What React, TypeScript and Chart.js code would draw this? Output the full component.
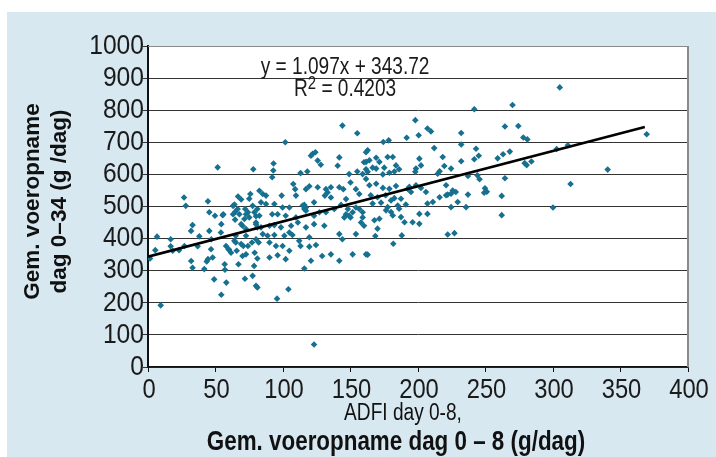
import { useEffect, useRef } from "react";
import { Chart, registerables } from "chart.js";
Chart.register(...registerables);

// ADFI day 0-8 (g/dag)
const adfiDay0to8: number[] = [
  1.5, 5.4, 6.7, 9.4, 16.8, 16.8, 18.3, 23, 26.7, 28, 27, 32, 33, 31.9, 33, 36.8, 38, 44.4, 45.4, 45.4,
  43.5, 44.4, 46.7, 47.9, 46.9, 49.6, 51.6, 41.7, 49, 54.3, 55.3, 55.8, 54.3, 54, 56.8, 57, 58, 57.8, 60, 64,
  64.7, 63, 64.5, 66.7, 65, 65, 67.7, 67, 72, 71.8, 74, 75, 75.8, 70, 72.6, 74, 77.5, 78, 79, 80,
  80, 81, 77.5, 69, 69, 70, 72.6, 78.6, 63, 66.4, 69, 71.4, 72.6, 75, 77, 78.8, 72.6, 80, 64, 65.7,
  70.6, 59.7, 61.5,
  144, 155, 101.7, 122, 124, 120.7, 125.7, 128, 141.7, 140.5, 161.5, 160, 93, 92.8, 92, 113, 118, 149, 155, 159,
  161.5, 82.5, 85, 87.4, 99, 107.6, 109, 109.6, 117, 119.5, 125.7, 131.8, 135.5, 141.7, 144.7, 150, 154, 156.5, 131, 133,
  83.7, 87.4, 93.6, 99.7, 104.7, 115.8, 117, 123, 135.5, 146.7, 143, 154, 92, 96, 102, 109.6, 82.5, 81, 127, 123,
  131.8, 138, 146.7, 150, 159, 157.8, 160, 80, 83.7, 90, 93.6, 98.5, 106, 111, 117, 123, 130.6, 141.7, 144, 154,
  85, 88.6, 93.6, 101, 104.7, 107, 112, 119.5, 82, 90, 94.8, 99.7, 104.7, 113, 119.5, 124.4, 129, 135.5, 141.7, 151.6,
  161.5, 81, 90, 96, 102, 120.7, 115.8, 80, 81, 104, 95.6, 123, 148, 149, 151.6, 145.4, 156.5, 159, 114.6, 115.8,
  117,
  241.7, 198, 207, 209.6, 200.5, 191.6, 174.3, 178.3, 232, 232, 212, 162.7, 164, 161.5, 169, 171.4, 177.5, 181.3, 166.4, 183.7,
  186, 201, 202.2, 218.3, 219.5, 224.5, 232, 241.7, 243, 161.5, 162.7, 169, 175, 174, 178.8, 182.5, 198.5, 198, 214.6, 216,
  237, 244, 164, 169, 174, 178.8, 183.7, 193.6, 198.5, 202.2, 205.9, 220.8, 225.7, 165, 170, 176, 182.5, 187.4, 192.4, 194.8,
  166.4, 172.6, 180, 185, 191, 207, 211, 216, 220.8, 224.5, 228, 222, 237, 229.4, 235.6, 224.5, 177.5, 176.3, 180, 181.3,
  186, 167.7, 171.4, 187.4, 190, 201, 207, 196, 201, 170, 168.4, 181.7, 188, 222, 227, 162.7,
  305, 270, 264.4, 274.3, 278, 281, 369.4, 311, 302.7, 263, 268, 259, 245, 279, 284, 280.5, 264.4, 249.6, 251, 249,
  262, 262, 300, 313, 340.5, 245.6,
];

// Gem. voeropname dag 0-34 (g/dag)
const adfiDay0to34: number[] = [
  338, 364, 406, 192, 398, 376, 362, 364, 528, 502, 377, 330, 309, 424, 442, 376, 407, 516, 482, 424,
  329, 336, 367, 341, 398, 471, 622, 305, 273, 225, 473, 476, 445, 419, 320, 303, 263, 377, 365, 506,
  484, 476, 459, 531, 409, 388, 476, 320, 492, 275, 482, 524, 539, 440, 409, 377, 284, 616, 356, 470,
  398, 435, 502, 522, 383, 346, 351, 315, 502, 492, 445, 461, 430, 466, 388, 482, 476, 450, 393, 362,
  377, 367, 356,
  752, 728, 700, 664, 669, 658, 643, 630, 653, 627, 669, 638, 634, 612, 591, 604, 609, 601, 609, 601,
  586, 549, 539, 534, 534, 570, 554, 534, 554, 563, 560, 554, 560, 560, 554, 575, 554, 539, 534, 544,
  513, 508, 508, 497, 497, 505, 487, 513, 528, 523, 505, 497, 476, 476, 471, 466, 471, 492, 482, 471,
  482, 492, 476, 466, 466, 450, 440, 445, 435, 440, 442, 435, 440, 450, 435, 445, 440, 414, 398, 414,
  414, 409, 411, 409, 419, 411, 393, 404, 388, 388, 377, 377, 362, 377, 375, 380, 346, 351, 331, 351,
  351, 338, 341, 348, 336, 331, 307, 253, 248, 242, 213, 70, 492, 471, 482, 466, 492, 482, 503, 492,
  497,
  803, 769, 743, 734, 722, 714, 701, 706, 729, 693, 682, 675, 644, 639, 652, 639, 654, 654, 621, 628,
  616, 649, 628, 654, 626, 618, 641, 647, 680, 616, 608, 618, 621, 600, 605, 609, 618, 608, 602, 610,
  595, 597, 566, 571, 558, 555, 564, 561, 566, 558, 545, 566, 550, 535, 529, 535, 526, 524, 555, 545,
  509, 512, 519, 503, 506, 509, 514, 529, 535, 540, 545, 537, 537, 514, 498, 498, 498, 488, 483, 472,
  493, 457, 462, 467, 451, 477, 477, 451, 446, 431, 408, 384, 410, 413, 417, 350,
  871, 816, 749, 751, 715, 709, 725, 691, 679, 663, 671, 650, 658, 635, 640, 629, 588, 557, 546, 543,
  533, 473, 497, 570, 615, 585,
];

const xTickValues: number[] = [0, 50, 100, 150, 200, 250, 300, 350, 400];
const yTickValues: number[] = [0, 100, 200, 300, 400, 500, 600, 700, 800, 900, 1000];

const trendSlope = 1.097;
const trendIntercept = 343.72;
const trendXRange: number[] = [0, 368];

const equationLine = "y = 1.097x + 343.72";
const rSquaredValue = "0.4203";
const equationAnchor: number[] = [146, 934, 863]; // x, y line1, y line2 (data units)

const yTitleLines: string[] = ["Gem. voeropname", "dag 0\u201334 (g /dag)"];
const xTitleLine1 = "ADFI day 0-8,";
const xTitleLine2 = "Gem. voeropname dag 0 \u2013 8 (g/dag)";

const SANS = "'Liberation Sans', Arial, sans-serif";
const NARROW_SCALE = 0.83;
const BG = "#d8e8f1";
const POINT = "#16708f";

function narrowText(
  ctx: CanvasRenderingContext2D,
  text: string,
  x: number,
  y: number,
  font: string,
  align: CanvasTextAlign,
  sx: number = NARROW_SCALE
) {
  ctx.save();
  ctx.font = font;
  ctx.textAlign = align;
  ctx.textBaseline = "middle";
  ctx.translate(x, y);
  ctx.scale(sx, 1);
  ctx.fillText(text, 0, 0);
  ctx.restore();
}

export default function App() {
  const canvasRef = useRef<HTMLCanvasElement | null>(null);

  useEffect(() => {
    if (!canvasRef.current) return;
    const scatterData = adfiDay0to8.map((x, i) => ({ x, y: adfiDay0to34[i] }));
    const trendData = trendXRange.map((x) => ({ x, y: trendSlope * x + trendIntercept }));

    const decor = {
      id: "decor",
      beforeDraw(chart: any) {
        const { ctx, width, height, chartArea } = chart;
        ctx.save();
        ctx.fillStyle = "#ffffff";
        ctx.fillRect(0, 0, width, height);
        ctx.fillStyle = BG;
        ctx.fillRect(7, 12, width - 7, height - 12);
        ctx.fillStyle = "#ffffff";
        ctx.fillRect(chartArea.left, chartArea.top, chartArea.right - chartArea.left, chartArea.bottom - chartArea.top);
        ctx.restore();
      },
      beforeDatasetsDraw(chart: any) {
        const { ctx, chartArea } = chart;
        ctx.save();
        ctx.strokeStyle = "#8a8a8a";
        ctx.lineWidth = 1;
        ctx.beginPath();
        ctx.moveTo(chartArea.left, chartArea.top + 0.5);
        ctx.lineTo(chartArea.right, chartArea.top + 0.5);
        ctx.stroke();
        ctx.lineWidth = 2;
        ctx.beginPath();
        ctx.moveTo(chartArea.right, chartArea.top);
        ctx.lineTo(chartArea.right, chartArea.bottom);
        ctx.stroke();
        ctx.restore();
      },
      afterDraw(chart: any) {
        const { ctx, chartArea } = chart;
        const xs = chart.scales.x;
        const ys = chart.scales.y;
        ctx.save();
        ctx.fillStyle = "#1a1a1a";

        // tick labels
        const tickFont = `28px ${SANS}`;
        yTickValues.forEach((v) => {
          narrowText(ctx, String(v), chartArea.left - 4, ys.getPixelForValue(v), tickFont, "right", 0.88);
        });
        xTickValues.forEach((v) => {
          narrowText(ctx, String(v), xs.getPixelForValue(v) + 1, chartArea.bottom + 23, tickFont, "center", 0.85);
        });

        // equation
        const eqFont = `23px ${SANS}`;
        const ex = xs.getPixelForValue(equationAnchor[0]);
        narrowText(ctx, equationLine, ex, ys.getPixelForValue(equationAnchor[1]), eqFont, "center");
        const y2 = ys.getPixelForValue(equationAnchor[2]);
        ctx.font = eqFont;
        const wR = ctx.measureText("R").width * NARROW_SCALE;
        const rest = " = " + rSquaredValue;
        const wRest = ctx.measureText(rest).width * NARROW_SCALE;
        ctx.font = `18px ${SANS}`;
        const w2 = ctx.measureText("2").width * NARROW_SCALE;
        let sx = ex - (wR + w2 + wRest) / 2;
        narrowText(ctx, "R", sx, y2, eqFont, "left");
        sx += wR;
        narrowText(ctx, "2", sx, y2 - 6, `18px ${SANS}`, "left");
        sx += w2;
        narrowText(ctx, rest, sx, y2, eqFont, "left");

        // y title
        const cy = (chartArea.top + chartArea.bottom) / 2 - 5;
        ctx.font = `bold 22.5px ${SANS}`;
        ctx.textAlign = "center";
        ctx.textBaseline = "middle";
        ctx.fillStyle = "#111";
        [33, 60].forEach((lx, i) => {
          ctx.save();
          ctx.translate(lx, cy);
          ctx.rotate(-Math.PI / 2);
          ctx.fillText(yTitleLines[i], 0, 0);
          ctx.restore();
        });

        // x titles
        const cx = (chartArea.left + chartArea.right) / 2;
        narrowText(ctx, xTitleLine1, cx - 15, 414, `23px ${SANS}`, "center");
        ctx.fillStyle = "#111";
        narrowText(ctx, xTitleLine2, cx - 22, 442, `bold 28px ${SANS}`, "center", 0.8);
        ctx.restore();
      },
    };

    const chart = new Chart(canvasRef.current, {
      type: "scatter",
      data: {
        datasets: [
          {
            type: "line",
            data: trendData,
            borderColor: "#000000",
            borderWidth: 2.5,
            pointRadius: 0,
            fill: false,
            order: 0,
          } as any,
          {
            data: scatterData,
            backgroundColor: POINT,
            borderColor: POINT,
            borderWidth: 0,
            pointStyle: "rectRot",
            pointRadius: 3.3,
            order: 1,
          },
        ],
      },
      options: {
        animation: false,
        responsive: true,
        maintainAspectRatio: false,
        layout: { padding: { left: 0, top: 46, right: 28, bottom: 0 } },
        plugins: { legend: { display: false }, tooltip: { enabled: false } },
        scales: {
          x: {
            type: "linear",
            min: 0,
            max: 400,
            afterFit: (s: any) => { s.height = 90; },
            afterBuildTicks: (s: any) => { s.ticks = xTickValues.map((v) => ({ value: v })); },
            grid: { drawOnChartArea: false, drawTicks: true, tickLength: 5, color: "#111" },
            border: { display: true, color: "#111", width: 1.5 },
            ticks: { display: false, autoSkip: false },
          },
          y: {
            type: "linear",
            min: 0,
            max: 1000,
            afterFit: (s: any) => { s.width = 148; },
            afterBuildTicks: (s: any) => { s.ticks = yTickValues.map((v) => ({ value: v })); },
            grid: { drawOnChartArea: true, drawTicks: true, tickLength: 5, color: "#333" },
            border: { display: true, color: "#111", width: 2 },
            ticks: { display: false, autoSkip: false },
          },
        },
      },
      plugins: [decor],
    });
    return () => chart.destroy();
  }, []);

  return (
    <div style={{ position: "absolute", left: 0, top: 0, width: 716, height: 457 }}>
      <canvas ref={canvasRef} />
    </div>
  );
}
